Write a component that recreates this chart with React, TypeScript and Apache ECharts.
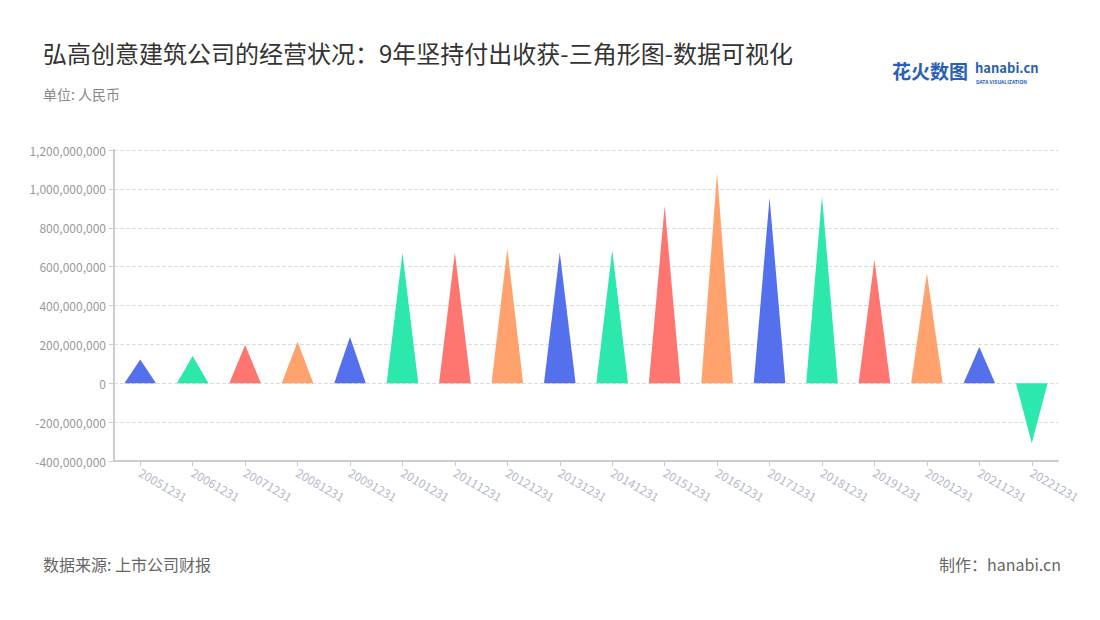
import React, { useEffect, useRef } from "react";
import * as echarts from "echarts";

const categories = [
  "20051231", "20061231", "20071231", "20081231", "20091231", "20101231",
  "20111231", "20121231", "20131231", "20141231", "20151231", "20161231",
  "20171231", "20181231", "20191231", "20201231", "20211231", "20221231",
];
const values = [
  122000000, 140000000, 197000000, 214000000, 238000000, 670000000,
  673000000, 693000000, 673000000, 685000000, 913000000, 1085000000,
  955000000, 964000000, 636000000, 566000000, 187000000, -309000000,
];
const palette = ["#5570ec", "#2de8ad", "#ff7570", "#ffa26e"];
const yTicks = { min: -400000000, max: 1200000000, interval: 200000000 };

const FONT = "'Noto Sans CJK SC', 'Noto Sans', sans-serif";

export default function App() {
  const ref = useRef<HTMLDivElement>(null);
  useEffect(() => {
    if (!ref.current) return;
    const chart = echarts.init(ref.current, null, { renderer: "svg" });
    chart.setOption({
      animation: false,
      backgroundColor: "#ffffff",
      textStyle: { fontFamily: FONT },
      title: [
        {
          text: "弘高创意建筑公司的经营状况：9年坚持付出收获-三角形图-数据可视化",
          left: 43,
          top: 40,
          padding: 0,
          textStyle: { fontSize: 24, fontWeight: "normal", color: "#333", fontFamily: FONT },
        },
        {
          text: "单位: 人民币",
          left: 43,
          top: 87,
          padding: 0,
          textStyle: { fontSize: 14, fontWeight: "normal", color: "#888", fontFamily: FONT },
        },
      ],
      graphic: [
        {
          type: "text",
          left: 43,
          top: 556,
          style: { text: "数据来源: 上市公司财报", fill: "#666", font: `16px ${FONT}` },
        },
        {
          type: "text",
          right: 39,
          top: 556,
          style: { text: "制作：hanabi.cn", fill: "#666", font: `16px ${FONT}` },
        },
        {
          type: "text",
          left: 892,
          top: 61,
          style: { text: "花火数图", fill: "#2a5fb8", font: `bold 19px ${FONT}` },
        },
        {
          type: "text",
          left: 975,
          top: 61,
          style: { text: "hanabi.cn", fill: "#2a5fb8", font: `bold 13px ${FONT}` },
        },
        {
          type: "text",
          left: 976,
          top: 79,
          style: { text: "DATA VISUALIZATION", fill: "#2a5fb8", font: `bold 5px ${FONT}` },
        },
      ],
      grid: { left: 114, right: 42, top: 150, bottom: 159, containLabel: false },
      xAxis: {
        type: "category",
        data: categories,
        axisLine: { onZero: false, lineStyle: { color: "#ccc", width: 2 } },
        axisTick: { show: true, alignWithLabel: true, lineStyle: { color: "#ccc" } },
        axisLabel: { rotate: -30, color: "#b4b8c8", fontSize: 12, margin: 10, interval: 0, fontFamily: FONT },
        splitLine: { show: false },
      },
      yAxis: {
        type: "value",
        min: yTicks.min,
        max: yTicks.max,
        interval: yTicks.interval,
        axisLine: { show: true, lineStyle: { color: "#ccc", width: 2 } },
        axisTick: { show: true, lineStyle: { color: "#ccc" } },
        axisLabel: {
          color: "#999",
          fontSize: 12,
          fontFamily: FONT,
          formatter: (v: number) => v.toLocaleString("en-US"),
        },
        splitLine: { show: true, lineStyle: { color: "#ddd", type: "dashed" } },
      },
      series: [
        {
          type: "pictorialBar",
          barCategoryGap: "40%",
          symbol: "path://M0,10 L10,10 L5,0 Z",
          symbolSize: ["100%", "100%"],
          data: values.map((v, i) => ({ value: v, itemStyle: { color: palette[i % 4] } })),
        },
      ],
    });
    return () => chart.dispose();
  }, []);
  return <div ref={ref} style={{ position: "fixed", left: 0, top: 0, width: 1100, height: 620 }} />;
}
